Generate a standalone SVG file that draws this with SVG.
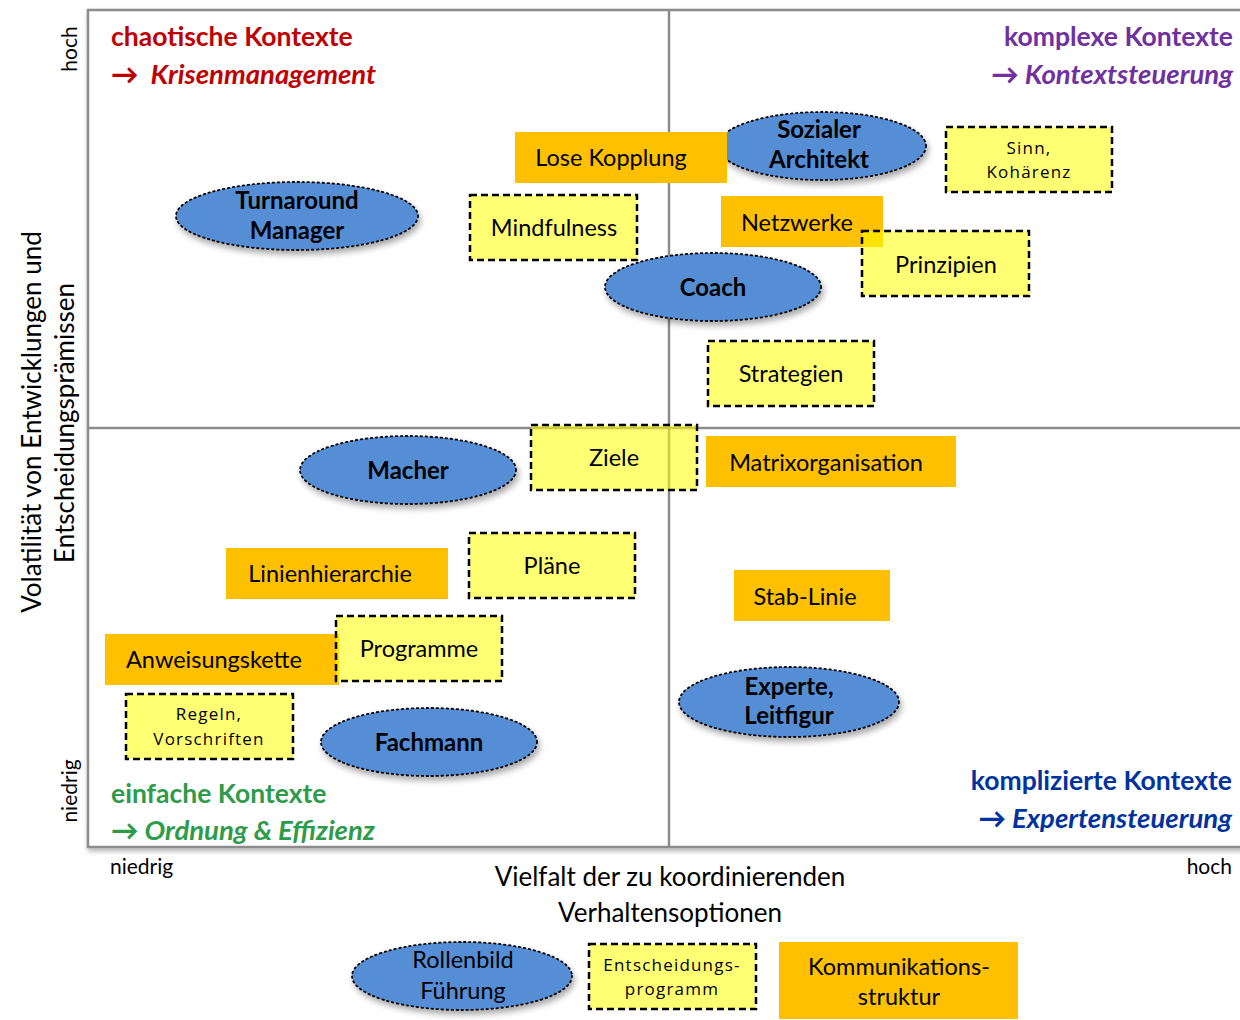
<svg xmlns="http://www.w3.org/2000/svg" width="1240" height="1020" viewBox="0 0 1240 1020">
  <defs>
    <filter id="shadow" x="-20%" y="-20%" width="140%" height="160%">
      <feDropShadow dx="2" dy="4" stdDeviation="3" flood-color="#000" flood-opacity="0.35"/>
    </filter>
    <filter id="frameShadow" x="-5%" y="-5%" width="110%" height="110%">
      <feDropShadow dx="1" dy="3" stdDeviation="2.5" flood-color="#000" flood-opacity="0.3"/>
    </filter>
  </defs>
  <style>
    text { font-family: Lato, "Open Sans", "Liberation Sans", sans-serif; fill: #000; }
    .lbl { font-size: 23.5px; text-anchor: middle; }
    .role { font-size: 24px; font-weight: bold; text-anchor: middle; }
    .wide { font-family: "Open Sans", "DejaVu Sans", sans-serif; font-size: 17px; letter-spacing: 1.2px; text-anchor: middle; }
    .axis { font-size: 26px; text-anchor: middle; }
    .tick { font-size: 21px; }
    .qt { font-size: 26.5px; font-weight: bold; }
    .qs { font-size: 27.5px; font-weight: bold; font-style: italic; }
    .arrow { font-style: normal; font-weight: 900; }
    .role-shape { fill: #558ED5; stroke: #000; stroke-width: 1.8; stroke-dasharray: 1.5 3.5; stroke-linecap: round; filter: url(#shadow); }
    .struct { fill: #FFC000; }
    .prog { fill: #FFFF00; fill-opacity: 0.55; stroke: #000; stroke-width: 2.5; stroke-dasharray: 7 4; }
  </style>

  <rect width="1240" height="1020" fill="#fff"/>

  <!-- matrix frame and quadrant divisions -->
  <g id="matrix">
    <rect x="88" y="10" width="1170" height="837" fill="#fff" stroke="#8c8c8c" stroke-width="2.5" filter="url(#frameShadow)"/>
    <line x1="669" y1="10" x2="669" y2="847" stroke="#8c8c8c" stroke-width="2.5"/>
    <line x1="88" y1="428" x2="1240" y2="428" stroke="#8c8c8c" stroke-width="2.5"/>
  </g>

  <!-- axis captions -->
  <g id="y-axis">
    <text class="tick" transform="translate(77,49) rotate(-90)" text-anchor="middle">hoch</text>
    <text class="tick" transform="translate(77,791) rotate(-90)" text-anchor="middle">niedrig</text>
    <text class="axis" transform="translate(41,422) rotate(-90)">Volatilität von Entwicklungen und</text>
    <text class="axis" transform="translate(74,423) rotate(-90)">Entscheidungsprämissen</text>
  </g>
  <g id="x-axis">
    <text class="tick" x="110" y="874">niedrig</text>
    <text class="tick" x="1232" y="874" text-anchor="end">hoch</text>
    <text class="axis" x="670" y="886">Vielfalt der zu koordinierenden</text>
    <text class="axis" x="670" y="922">Verhaltensoptionen</text>
  </g>

  <!-- quadrant titles -->
  <g id="q-chaotic">
    <text class="qt" x="111" y="46" style="fill:#C00000">chaotische Kontexte</text>
    <text class="qs" x="111" y="84" style="fill:#C00000"><tspan class="arrow">→</tspan> <tspan dx="6">Krisenmanagement</tspan></text>
  </g>
  <g id="q-complex">
    <text class="qt" x="1233" y="46" text-anchor="end" style="fill:#7030A0">komplexe Kontexte</text>
    <text class="qs" x="1233" y="84" text-anchor="end" style="fill:#7030A0"><tspan class="arrow">→</tspan> Kontextsteuerung</text>
  </g>
  <g id="q-simple">
    <text class="qt" x="111" y="803" style="fill:#2E9B4A">einfache Kontexte</text>
    <text class="qs" x="111" y="840" style="fill:#2E9B4A"><tspan class="arrow">→</tspan> Ordnung &amp; Effizienz</text>
  </g>
  <g id="q-complicated">
    <text class="qt" x="1232" y="790" text-anchor="end" style="fill:#0033A0">komplizierte Kontexte</text>
    <text class="qs" x="1232" y="828" text-anchor="end" style="fill:#0033A0"><tspan class="arrow">→</tspan> Expertensteuerung</text>
  </g>

  <!-- no connectors in this chart -->
  <g id="connectors"/>

  <!-- decision programmes (dashed yellow) -->
  <g id="mindfulness">
    <rect class="prog" x="470" y="195" width="167" height="65"/>
    <text class="lbl" x="554" y="236">Mindfulness</text>
  </g>
  <g id="sinn">
    <rect class="prog" x="946" y="127" width="166" height="65"/>
    <text class="wide" x="1029" y="154">Sinn,</text>
    <text class="wide" x="1029" y="178">Kohärenz</text>
  </g>
  <g id="strategien">
    <rect class="prog" x="708" y="341" width="166" height="65"/>
    <text class="lbl" x="791" y="382">Strategien</text>
  </g>
  <g id="regeln">
    <rect class="prog" x="126" y="694" width="167" height="65"/>
    <text class="wide" x="209" y="720">Regeln,</text>
    <text class="wide" x="209" y="745">Vorschriften</text>
  </g>

  <!-- roles (blue ellipses) -->
  <g id="turnaround">
    <ellipse class="role-shape" cx="297" cy="216" rx="121" ry="34"/>
    <text class="role" x="297" y="209">Turnaround</text>
    <text class="role" x="297" y="239">Manager</text>
  </g>
  <g id="sozialer-architekt">
    <ellipse class="role-shape" cx="822" cy="146" rx="104" ry="34"/>
    <text class="role" x="819" y="138">Sozialer</text>
    <text class="role" x="819" y="168">Architekt</text>
  </g>
  <g id="coach">
    <ellipse class="role-shape" cx="713" cy="287" rx="108" ry="34"/>
    <text class="role" x="713" y="296">Coach</text>
  </g>
  <g id="macher">
    <ellipse class="role-shape" cx="408" cy="470" rx="108" ry="34"/>
    <text class="role" x="408" y="479">Macher</text>
  </g>
  <g id="fachmann">
    <ellipse class="role-shape" cx="429" cy="742" rx="108" ry="34"/>
    <text class="role" x="429" y="751">Fachmann</text>
  </g>
  <g id="experte">
    <ellipse class="role-shape" cx="789" cy="702" rx="110" ry="35"/>
    <text class="role" x="789" y="695">Experte,</text>
    <text class="role" x="789" y="724">Leitfigur</text>
  </g>

  <!-- communication structures (orange) -->
  <g id="lose-kopplung">
    <rect class="struct" x="515" y="132" width="212" height="51"/>
    <text class="lbl" x="611" y="166">Lose Kopplung</text>
  </g>
  <g id="netzwerke">
    <rect class="struct" x="721" y="196" width="162" height="51"/>
    <text class="lbl" x="797" y="231">Netzwerke</text>
  </g>
  <g id="matrixorganisation">
    <rect class="struct" x="706" y="436" width="250" height="51"/>
    <text class="lbl" x="826" y="471">Matrixorganisation</text>
  </g>
  <g id="linienhierarchie">
    <rect class="struct" x="226" y="548" width="222" height="51"/>
    <text class="lbl" x="330" y="582">Linienhierarchie</text>
  </g>
  <g id="stab-linie">
    <rect class="struct" x="734" y="570" width="156" height="51"/>
    <text class="lbl" x="805" y="605">Stab-Linie</text>
  </g>
  <g id="anweisungskette">
    <rect class="struct" x="105" y="634" width="234" height="51"/>
    <text class="lbl" x="214" y="668">Anweisungskette</text>
  </g>

  <!-- programmes drawn above structures -->
  <g id="prinzipien">
    <rect class="prog" x="862" y="231" width="167" height="65"/>
    <text class="lbl" x="946" y="273">Prinzipien</text>
  </g>
  <g id="ziele">
    <rect class="prog" x="531" y="425" width="166" height="65"/>
    <text class="lbl" x="614" y="466">Ziele</text>
  </g>
  <g id="plaene">
    <rect class="prog" x="469" y="533" width="166" height="65"/>
    <text class="lbl" x="552" y="574">Pläne</text>
  </g>
  <g id="programme">
    <rect class="prog" x="336" y="616" width="166" height="65"/>
    <text class="lbl" x="419" y="657">Programme</text>
  </g>

  <!-- legend -->
  <g id="legend-rolle">
    <ellipse class="role-shape" cx="462" cy="976" rx="110" ry="34"/>
    <text class="lbl" x="463" y="968">Rollenbild</text>
    <text class="lbl" x="463" y="999">Führung</text>
  </g>
  <g id="legend-programm">
    <rect class="prog" x="589" y="944" width="167" height="65"/>
    <text class="wide" x="672" y="971">Entscheidungs-</text>
    <text class="wide" x="672" y="995">programm</text>
  </g>
  <g id="legend-struktur">
    <rect class="struct" x="779" y="942" width="239" height="77"/>
    <text class="lbl" x="899" y="975">Kommunikations-</text>
    <text class="lbl" x="899" y="1005">struktur</text>
  </g>
</svg>
